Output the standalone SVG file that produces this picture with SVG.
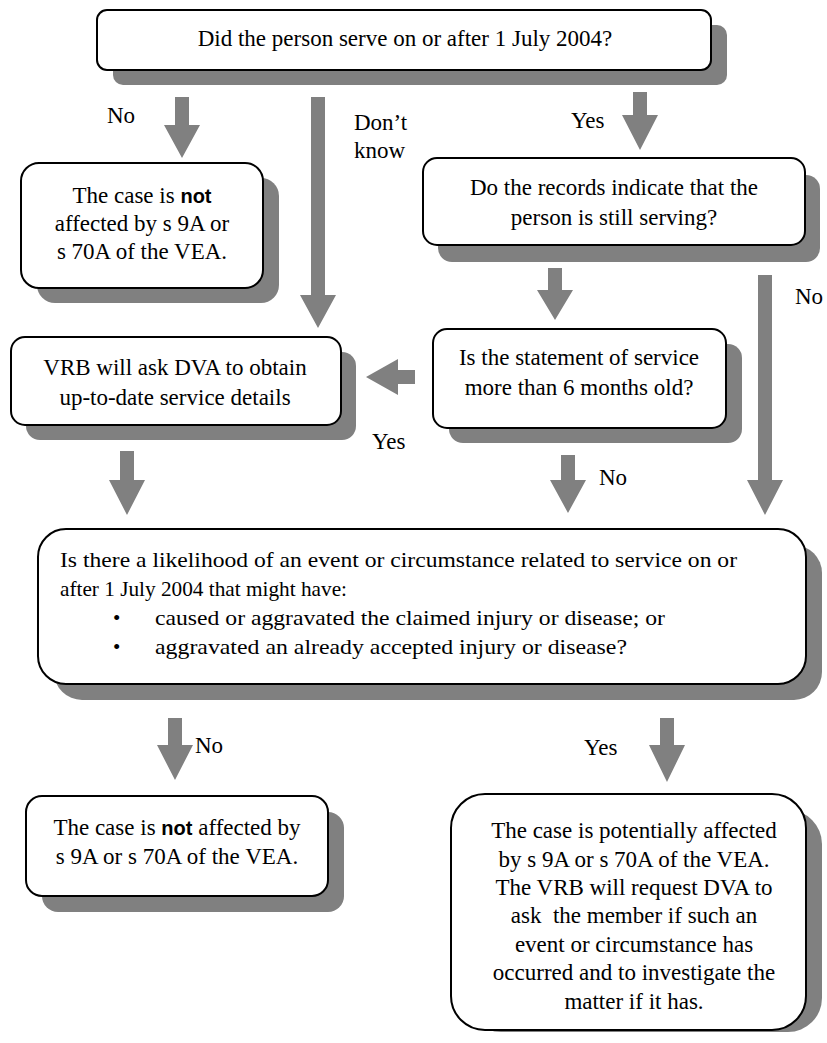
<svg xmlns="http://www.w3.org/2000/svg" width="827" height="1043" viewBox="0 0 827 1043">
  <style>
    .box { fill: #ffffff; stroke: #000000; stroke-width: 2; }
    .shadow { fill: #808080; }
    .arrow { fill: #808080; }
    text { font-family: "Liberation Serif", "Times New Roman", serif; font-size: 23px; fill: #000000; }
    .c { text-anchor: middle; }
    .b { font-weight: bold; font-family: "Liberation Sans", Arial, sans-serif; font-size: 20px; }
    .q { font-size: 21px; }
    .pre { white-space: pre; }
  </style>
  <rect width="827" height="1043" fill="#ffffff"/>

  <!-- connectors: block arrows -->
  <g id="connectors">
    <polygon class="arrow" points="175,97 189,97 189,125 200,125 182,158 164,125 175,125"/>
    <polygon class="arrow" points="311,97 325,97 325,295 336,295 318,328 300,295 311,295"/>
    <polygon class="arrow" points="633,92 647,92 647,115 658,115 640,150 622,115 633,115"/>
    <polygon class="arrow" points="548,268 562,268 562,290 573,290 555,320 537,290 548,290"/>
    <polygon class="arrow" points="758,275 772,275 772,480 783,480 765,515 747,480 758,480"/>
    <polygon class="arrow" points="415,370 415,384 398,384 398,395 366,377 398,359 398,370"/>
    <polygon class="arrow" points="120,451 134,451 134,480 145,480 127,515 109,480 120,480"/>
    <polygon class="arrow" points="561,455 575,455 575,480 586,480 568,513 550,480 561,480"/>
    <polygon class="arrow" points="168,718 182,718 182,745 193,745 175,780 157,745 168,745"/>
    <polygon class="arrow" points="660,718 674,718 674,745 685,745 667,782 649,745 660,745"/>
    <text x="107" y="123">No</text>
    <text x="354" y="130">Don’t</text>
    <text x="354" y="158">know</text>
    <text x="571" y="128">Yes</text>
    <text x="795" y="304">No</text>
    <text x="372" y="449">Yes</text>
    <text x="599" y="485">No</text>
    <text x="195" y="753">No</text>
    <text x="584" y="755">Yes</text>
  </g>

  <g id="q-served">
    <rect class="shadow" x="113" y="25" width="614" height="60" rx="10"/>
    <rect class="box" x="97" y="10" width="614" height="60" rx="10"/>
    <text class="c" x="405" y="46">Did the person serve on or after 1 July 2004?</text>
  </g>

  <g id="not-affected-1">
    <rect class="shadow" x="37" y="178" width="242" height="125" rx="18"/>
    <rect class="box" x="21" y="163" width="242" height="125" rx="18"/>
    <text class="c" x="142" y="203">The case is <tspan class="b">not</tspan></text>
    <text class="c" x="142" y="231">affected by s 9A or</text>
    <text class="c" x="142" y="259">s 70A of the VEA.</text>
  </g>

  <g id="q-still-serving">
    <rect class="shadow" x="438" y="175" width="382" height="87" rx="14"/>
    <rect class="box" x="423" y="158" width="382" height="87" rx="14"/>
    <text class="c" x="614" y="195">Do the records indicate that the</text>
    <text class="c" x="614" y="225">person is still serving?</text>
  </g>

  <g id="vrb-ask">
    <rect class="shadow" x="26" y="352" width="330" height="88" rx="14"/>
    <rect class="box" x="11" y="337" width="330" height="88" rx="14"/>
    <text class="c" x="175" y="375">VRB will ask DVA to obtain</text>
    <text class="c" x="175" y="405">up-to-date service details</text>
  </g>

  <g id="q-statement-age">
    <rect class="shadow" x="449" y="344" width="293" height="99" rx="14"/>
    <rect class="box" x="433" y="329" width="293" height="99" rx="14"/>
    <text class="c" x="579" y="365">Is the statement of service</text>
    <text class="c" x="579" y="395">more than 6 months old?</text>
  </g>

  <g id="q-likelihood">
    <rect class="shadow" x="54" y="545" width="768" height="155" rx="28"/>
    <rect class="box" x="38" y="529" width="768" height="155" rx="28"/>
    <text class="q" x="60" y="567" textLength="677" lengthAdjust="spacingAndGlyphs">Is there a likelihood of an event or circumstance related to service on or</text>
    <text class="q" x="60" y="596" textLength="287" lengthAdjust="spacingAndGlyphs">after 1 July 2004 that might have:</text>
    <text class="q" x="113" y="625">•</text>
    <text class="q" x="155" y="625" textLength="510" lengthAdjust="spacingAndGlyphs">caused or aggravated the claimed injury or disease; or</text>
    <text class="q" x="113" y="654">•</text>
    <text class="q" x="155" y="654" textLength="472" lengthAdjust="spacingAndGlyphs">aggravated an already accepted injury or disease?</text>
  </g>

  <g id="not-affected-2">
    <rect class="shadow" x="42" y="812" width="302" height="100" rx="16"/>
    <rect class="box" x="26" y="796" width="302" height="100" rx="16"/>
    <text class="c" x="177" y="835">The case is <tspan class="b">not</tspan> affected by</text>
    <text class="c" x="177" y="864">s 9A or s 70A of the VEA.</text>
  </g>

  <g id="potentially-affected">
    <rect class="shadow" x="467" y="810" width="355" height="222" rx="34"/>
    <rect class="box" x="451" y="794" width="355" height="236" rx="34"/>
    <text class="c" x="634" y="838">The case is potentially affected</text>
    <text class="c" x="634" y="867">by s 9A or s 70A of the VEA.</text>
    <text class="c" x="634" y="895">The VRB will request DVA to</text>
    <text class="c pre" x="634" y="923">ask  the member if such an</text>
    <text class="c" x="634" y="952">event or circumstance has</text>
    <text class="c" x="634" y="980">occurred and to investigate the</text>
    <text class="c" x="634" y="1009">matter if it has.</text>
  </g>
</svg>
